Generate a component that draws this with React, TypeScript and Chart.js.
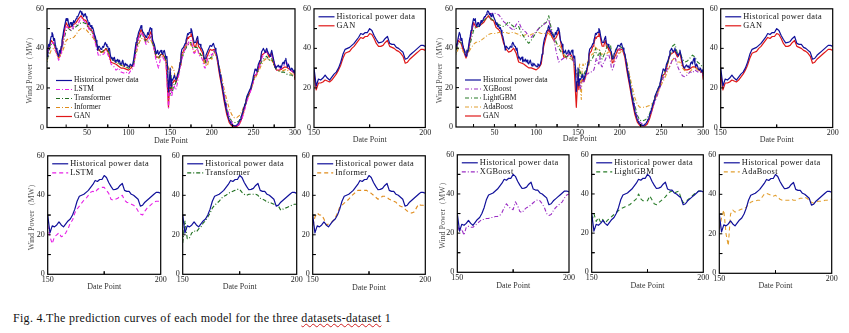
import React, { useEffect, useRef } from 'react';
import { Chart, registerables } from 'chart.js';

Chart.register(...registerables);

const seq = (a: number, b: number, s: number) => {
  const r: number[] = [];
  for (let v = a; v <= b; v += s) r.push(v);
  return r;
};

// ---- categories (Date Point indices) ----
const dayIdx = seq(1, 300, 1);
const modelX = [...seq(1, 148, 3), ...seq(150, 200, 1), ...seq(203, 299, 3), 300];

// ---- tick labels ----
const xTicksFull = [50, 100, 150, 200, 250, 300];
const xTicksZoom = [150, 200];
const yTicksPower = [0, 20, 40, 60];

// ---- historical power data (1..300) ----
const histPower = [
  38, 36, 40, 42, 41, 44, 46, 48, 47, 44,
  45, 42, 40, 39, 37, 36, 39, 38, 41, 44,
  46, 49, 51, 53, 55, 54, 55, 52, 51, 53,
  53, 51, 52, 54, 53, 54, 55, 56, 56, 57,
  58, 59, 58.5, 57, 57.5, 56, 57, 57.5, 56, 55,
  54, 52, 53, 51, 51.5, 50, 50.5, 49, 47, 46,
  44, 42, 39, 41, 41, 40, 39.5, 40, 41, 40.5,
  42, 43, 42, 41, 41, 39, 40, 37, 35, 35.5,
  34, 35, 35.5, 33, 34, 33.5, 34.5, 33, 34, 32.5,
  32, 33, 34, 32, 31, 32.5, 31.5, 32, 31, 31,
  30.5, 32, 31.5, 31, 32, 34, 37, 40, 43, 45,
  46, 48, 49, 50, 51.5, 50, 48.5, 48, 47, 46.5,
  45.5, 46, 48, 47, 49, 50.5, 50, 48, 44, 43,
  42, 40, 37.5, 38, 39, 37, 37.5, 38.5, 39, 37.5,
  37, 38.5, 39, 37, 35, 36, 30, 18, 23, 30,
  21, 24.5, 24, 25, 26.5, 25, 24, 25.5, 27, 28,
  30, 33, 37, 39.5, 40, 40.5, 41.5, 42.5, 44, 45.5,
  47.5, 47, 48, 48, 50, 49, 46.5, 44.5, 42.8, 43,
  43.5, 45, 46, 42.5, 42, 42, 40.5, 40, 39, 38,
  34.5, 35, 36.5, 37.5, 38.5, 39.5, 40.5, 41.5, 41.5, 41,
  42, 42.5, 41, 40, 38.5, 37, 35, 32, 29, 26.5,
  24, 22, 19.5, 17, 14.5, 12, 10, 8, 6.5, 5,
  3.8, 2.8, 2, 1.5, 1.2, 1, 0.8, 0.8, 1, 1.2,
  1.6, 2.2, 3, 4, 5, 6.3, 7.5, 9, 10.5, 12,
  13.5, 15.5, 16.5, 17.5, 18.5, 19.5, 20.5, 22, 23.5, 26,
  27.5, 29.5, 29, 28.5, 30, 32, 33, 34, 36, 38.5,
  39, 40, 39, 38, 39, 40, 38.5, 37.5, 37, 36,
  37.5, 39, 37, 35, 33, 31, 30, 30.5, 31, 31.5,
  30.5, 31, 30, 31, 32.5, 33, 32, 34, 35, 32,
  30.5, 32, 31, 29.5, 29, 30, 29.5, 28, 29, 27,
];

// ---- model predictions: pre (1..148 step 3), mid (150..200), post (203..299 step 3, 300) ----
const lstmPre = [34, 40, 42, 43, 38, 34, 37, 45, 51, 50, 49, 51, 52, 53, 55.5, 54, 53, 50, 49, 46, 41, 36, 37, 37, 39, 36, 32, 31, 29, 30, 28, 27.5, 28, 27, 29, 30, 39, 45, 48, 46, 42, 44, 47, 41, 34, 30, 36, 35, 32, 10];
const lstmMid = [24.5, 19, 15.5, 19, 20, 21, 19, 19.5, 21, 23, 26, 27.5, 31, 33, 34.5, 36, 37.5, 38.5, 40, 41.5, 42, 41.5, 43, 43.5, 44, 44, 42.5, 41, 38, 37.5, 38, 38.5, 39.5, 40, 37.5, 36.5, 36, 35.5, 35, 34, 32, 30.5, 30, 32, 33.5, 34.5, 35.5, 36.5, 37, 37, 36.5];
const lstmPost = [39.5, 36, 30, 23.5, 16.5, 10, 5.5, 2.5, 1, 0.8, 1.5, 4, 8, 13, 16.5, 20, 25, 27.5, 30, 35, 37.5, 38.5, 36.5, 37, 33, 29, 29.5, 30, 31.5, 33, 29.5, 28.5, 28, 26];

const transPre = [30, 38, 42, 43, 39, 36, 38, 44, 49, 50, 49, 50, 51, 52, 53, 53, 52.5, 50, 49, 47, 43, 40, 38, 39, 40, 38.5, 35, 34, 33, 32.5, 31.5, 31, 30.5, 30, 30.5, 32, 39, 44, 47, 46, 43, 44, 46, 41, 36, 35, 37, 37, 34, 20];
const transMid = [16, 27, 18, 18.5, 21, 22, 21.5, 23, 24, 26, 27, 29, 31, 33.5, 35, 36, 37, 38.5, 39.5, 40, 41, 41.5, 42, 42.5, 43, 43, 41.5, 40.5, 40, 40.5, 40.5, 40.5, 40.5, 40, 38.5, 38, 37.5, 36.5, 36.5, 36, 35.5, 35, 34.5, 32.5, 33, 33.5, 34, 34.5, 35, 35.5, 35.5];
const transPost = [39, 36, 30, 23.5, 16, 10, 5.5, 3, 2.5, 2.5, 3.5, 6, 10, 14.5, 17.5, 21, 25.5, 27, 30.5, 33.5, 35, 36, 34, 35, 31, 29, 28.5, 28, 28, 27, 26.5, 26.5, 25.5, 25];

const inforPre = [33, 36, 39, 40, 38, 35, 37, 40, 44, 45, 45, 45.5, 47, 49, 50, 50, 49.5, 48, 46.5, 45, 42, 39, 38, 38, 39, 38, 35, 34, 33, 32, 31.5, 31, 30.5, 30.5, 31, 32, 37, 42, 45, 45, 43, 43, 44, 41, 37, 35, 35.5, 36, 34, 30];
const inforMid = [24, 29, 31, 30, 30, 28, 25, 25.5, 26, 27, 28.5, 31, 34, 35, 36, 37, 38, 39.5, 40.5, 41.5, 42.5, 42.5, 42.5, 42.5, 42.5, 41.5, 41, 40, 39, 38, 38.5, 39.5, 39.5, 39, 38, 37.5, 37, 36.5, 35, 34.5, 34, 33, 32, 31.5, 31, 31.5, 33.5, 35.5, 35, 35, 34.5];
const inforPost = [38, 36, 31, 25, 19, 14, 9.5, 6.5, 5, 5, 6, 8, 11, 15, 18, 20.5, 24, 26.5, 29, 32, 34, 35, 34, 34, 31.5, 29, 28.5, 28.5, 29, 29.5, 28, 27, 26.5, 26];

const ganPre = [36, 40, 44, 42.5, 38.5, 35, 39, 47, 53, 50.5, 51, 52, 53, 55, 56.5, 54.5, 54, 50.5, 49.5, 47.5, 42.5, 39.5, 38, 38.5, 40, 37.5, 33, 32.5, 32, 31, 30, 30, 29.5, 29, 30, 32, 41, 46, 49.5, 46.5, 44, 45.5, 48.5, 41.5, 35.5, 35.5, 37, 36.5, 33.5, 10];
const ganMid = [27, 19, 22.5, 22.5, 23, 24, 23.5, 23, 24, 25.5, 27, 29, 31.5, 35, 37.5, 38, 38.5, 40, 41, 42.5, 44, 45.5, 45, 46, 46, 47.5, 47, 45, 42.5, 41, 41, 41.5, 43, 44, 41, 40.5, 40, 39, 38.5, 37.5, 36, 32.5, 33, 34.5, 35.5, 36.5, 37.5, 38.5, 39.5, 39.5, 39];
const ganPost = [39.5, 35.5, 27.5, 20.5, 13, 6.5, 2.5, 0.8, 0.5, 0.5, 1.5, 4.5, 9, 14, 17, 20.5, 26, 27, 31.5, 36.5, 37.5, 38.5, 35.5, 37.5, 31.5, 29, 29, 29.5, 30.5, 30.5, 29.5, 28.5, 27.5, 24];

const xgbPre = [36, 41, 45, 44, 40, 37, 40, 47, 53, 52, 52.5, 53.5, 55, 56.5, 58, 57.5, 58, 57.5, 57, 55.5, 53.5, 52.5, 51, 50, 49, 52, 53.5, 50.5, 49, 48, 46, 45.5, 47, 48.5, 50, 51, 52, 53, 54.5, 49, 45, 38, 33, 34, 35, 34.5, 37, 36, 33, 27];
const xgbMid = [24, 21, 22, 19, 23, 23.5, 23, 23, 24, 25, 26, 27, 27, 27.5, 27.5, 28, 28, 28.5, 28.5, 29, 30.5, 33, 35, 33.5, 32.5, 32, 36, 34, 31, 30.5, 32, 33, 33.5, 34.5, 35.5, 36.5, 37, 36.5, 35, 33, 30, 29, 29.5, 31.5, 33, 34, 35, 36, 38, 39.5, 40];
const xgbPost = [40, 37, 30, 23, 16, 10, 5, 2.5, 1.5, 1.5, 3, 5.5, 9, 13, 16, 20, 24, 26.5, 29.5, 31, 34, 35.5, 31, 28, 26, 25.5, 26.5, 28, 27.5, 29, 28, 28, 27, 26];

const lgbPre = [30, 38, 43, 43, 40, 37, 39, 44, 49, 51, 51, 52, 54, 55, 56, 55, 54, 53, 52, 51.5, 51, 52, 53.5, 52, 51, 50, 51, 48, 46, 44, 42.5, 44, 46, 48, 50, 51, 52.5, 53, 56.5, 50, 46, 43, 40, 38, 37, 35.5, 36, 35.5, 33, 28];
const lgbMid = [26, 30, 26, 28, 25.5, 27, 25, 26.5, 27.5, 28.5, 29.5, 30.5, 31.5, 32.5, 33, 33.5, 34, 34.5, 35.5, 36.5, 37.5, 40, 37.5, 36.5, 36.5, 36.5, 39, 37, 35, 34.5, 35.5, 36.5, 37.5, 38.5, 40, 41, 41.5, 40.5, 41, 41.5, 38, 35.5, 36, 37, 38, 39, 40, 41, 41.5, 41.5, 41];
const lgbPost = [40, 37, 31, 24, 17, 11, 6, 3.5, 3, 3.5, 4.5, 7, 11, 15, 18.5, 21.5, 25.5, 28, 32, 36, 41, 42, 37.5, 38, 34.5, 33, 33.5, 35, 36.5, 35.5, 33, 32, 30.5, 30];

const adaPre = [34, 37, 40, 40, 38, 37, 38, 40, 42, 43, 43, 44, 45, 46, 47, 47.5, 47.5, 47.5, 48, 48, 48, 48, 47.5, 48, 48, 47.5, 47, 46, 46.5, 47, 46, 47, 47.5, 48, 48, 47.5, 47.5, 47.5, 47.5, 46, 44, 42, 42, 40, 37, 35, 35, 34.5, 33, 28];
const adaMid = [22, 28, 32, 20, 14, 30, 32, 31, 31.5, 32, 32.5, 32.5, 33.5, 35, 36, 36.5, 36.5, 37, 37, 38.5, 40, 40.5, 40, 39.5, 39, 39.5, 38.5, 37.5, 37, 37, 37, 37, 37.5, 37, 37, 37.5, 38, 38, 38.5, 38, 37, 36, 35.5, 36, 36.5, 36.5, 36.5, 37, 37, 37.5, 37.5];
const adaPost = [39, 37, 32, 26, 20, 15, 11.5, 10, 10, 10, 10.5, 11, 12, 14, 17, 20, 22.5, 25, 28, 31, 34, 35, 33, 33, 30, 28.5, 27.5, 28, 29.5, 30.5, 29, 28, 27.5, 27];

const FONT = '"Liberation Serif", "Times New Roman", serif';
const DD = [4, 2, 1, 2];
const DA = [4, 3];

type S = { label: string; color: string; width: number; x: number[]; y: number[]; dashFull: number[]; dashZoom: number[] };

const sHist: S = { label: 'Historical power data', color: '#10109a', width: 1.2, x: dayIdx, y: histPower, dashFull: [], dashZoom: [] };
const sGan: S = { label: 'GAN', color: '#e01818', width: 1.2, x: modelX, y: [...ganPre, ...ganMid, ...ganPost], dashFull: [], dashZoom: [] };
const sLstm: S = { label: 'LSTM', color: '#e620e6', width: 1.1, x: modelX, y: [...lstmPre, ...lstmMid, ...lstmPost], dashFull: DD, dashZoom: DA };
const sTrans: S = { label: 'Transformer', color: '#1f6f1f', width: 1.1, x: modelX, y: [...transPre, ...transMid, ...transPost], dashFull: DD, dashZoom: DD };
const sInfor: S = { label: 'Informer', color: '#e08c1c', width: 1.1, x: modelX, y: [...inforPre, ...inforMid, ...inforPost], dashFull: DD, dashZoom: DA };
const sXgb: S = { label: 'XGBoost', color: '#9b2ec4', width: 1.1, x: modelX, y: [...xgbPre, ...xgbMid, ...xgbPost], dashFull: DD, dashZoom: DD };
const sLgb: S = { label: 'LightGBM', color: '#2a7d2a', width: 1.1, x: modelX, y: [...lgbPre, ...lgbMid, ...lgbPost], dashFull: DD, dashZoom: DA };
const sAda: S = { label: 'AdaBoost', color: '#e2a032', width: 1.1, x: modelX, y: [...adaPre, ...adaMid, ...adaPost], dashFull: DD, dashZoom: DA };

type P = {
  L: number; T: number; R: number; B: number;
  xMin: number; xMax: number; xTicks: number[];
  yTitleX?: number; dp: number; big: boolean; series: S[];
};

const panels: P[] = [
  { L: 47, T: 7, R: 295, B: 127.5, xMin: 2, xMax: 300, xTicks: xTicksFull, yTitleX: 30, dp: 13.5, big: true, series: [sHist, sLstm, sTrans, sInfor, sGan] },
  { L: 314, T: 7, R: 425.3, B: 127.5, xMin: 150, xMax: 200, xTicks: xTicksZoom, dp: 12.5, big: false, series: [sHist, sGan] },
  { L: 456, T: 7, R: 703.3, B: 127, xMin: 4, xMax: 300, xTicks: xTicksFull, yTitleX: 440, dp: 11.5, big: true, series: [sHist, sXgb, sLgb, sAda, sGan] },
  { L: 720.7, T: 7, R: 832.7, B: 127.5, xMin: 150, xMax: 200, xTicks: xTicksZoom, dp: 12, big: false, series: [sHist, sGan] },
  { L: 47.7, T: 154.3, R: 160.7, B: 274.3, xMin: 150, xMax: 200, xTicks: xTicksZoom, yTitleX: 31.7, dp: 12.4, big: false, series: [sHist, sLstm] },
  { L: 182.7, T: 154.3, R: 296.7, B: 274.3, xMin: 150, xMax: 200, xTicks: xTicksZoom, dp: 12.4, big: false, series: [sHist, sTrans] },
  { L: 312.7, T: 154.3, R: 425.3, B: 274.3, xMin: 150, xMax: 200, xTicks: xTicksZoom, dp: 14, big: false, series: [sHist, sInfor] },
  { L: 457.3, T: 153.3, R: 569, B: 272.3, xMin: 150, xMax: 200, xTicks: xTicksZoom, yTitleX: 442.7, dp: 13.7, big: false, series: [sHist, sXgb] },
  { L: 591.7, T: 153, R: 703.3, B: 272.3, xMin: 150, xMax: 200, xTicks: xTicksZoom, dp: 13.7, big: false, series: [sHist, sLgb] },
  { L: 719.3, T: 153.3, R: 831.7, B: 273.3, xMin: 150, xMax: 200, xTicks: xTicksZoom, dp: 12.7, big: false, series: [sHist, sAda] },
];

const framePlugin = {
  id: 'frameTicks',
  afterDatasetsDraw(chart: any, _args: any, opts: any) {
    const { ctx, chartArea: a, scales } = chart;
    const x = scales.x, y = scales.y;
    ctx.save();
    ctx.setLineDash([]);
    ctx.strokeStyle = '#000';
    ctx.lineWidth = 1.2;
    ctx.strokeRect(a.left, a.top, a.right - a.left, a.bottom - a.top);
    ctx.lineWidth = 1;
    const tl = 3;
    const minors = (vals: number[], lo: number, hi: number) => {
      const out: number[] = [...vals];
      if (vals.length > 1) {
        const st = vals[1] - vals[0];
        vals.forEach((v) => { out.push(v - st / 2); out.push(v + st / 2); });
      }
      return out.filter((v) => v > lo && v < hi);
    };
    const xv = minors(x.ticks.map((t: any) => t.value), x.min, x.max);
    const yv = minors(y.ticks.map((t: any) => t.value), y.min, y.max);
    ctx.beginPath();
    xv.forEach((v) => { const px = x.getPixelForValue(v); ctx.moveTo(px, a.bottom); ctx.lineTo(px, a.bottom - tl); });
    yv.forEach((v) => { const py = y.getPixelForValue(v); ctx.moveTo(a.left, py); ctx.lineTo(a.left + tl, py); });
    ctx.stroke();

    // legend inside plot
    const ds = chart.data.datasets;
    const fs = opts.big ? 7.5 : 8.3;
    const rowH = 9;
    const x0 = a.left + (opts.big ? 9 : 4.5);
    const y0 = opts.big ? a.bottom - 47 : a.top + 8;
    const len = 16;
    ctx.font = `${fs}px ${FONT}`;
    ctx.textBaseline = 'middle';
    if (!opts.big && 'letterSpacing' in ctx) (ctx as any).letterSpacing = '0.35px';
    ds.forEach((d: any, i: number) => {
      const yy = y0 + i * rowH;
      ctx.strokeStyle = d.borderColor;
      ctx.lineWidth = 1.2;
      ctx.setLineDash(d.borderDash || []);
      ctx.beginPath();
      ctx.moveTo(x0, yy);
      ctx.lineTo(x0 + len, yy);
      ctx.stroke();
      ctx.setLineDash([]);
      ctx.fillStyle = '#111';
      ctx.fillText(d.label, x0 + len + 2, yy);
    });
    ctx.restore();
  },
};

function PanelChart({ p }: { p: P }) {
  const ref = useRef<HTMLCanvasElement>(null);
  const titleHalf = 4.8;
  const cl = p.yTitleX !== undefined ? Math.floor(p.yTitleX - titleHalf) : Math.floor(p.L - 16);
  const yTitlePad = p.yTitleX !== undefined ? p.yTitleX - titleHalf - cl : 0;
  const ct = Math.floor(p.T - 6);
  const cr = Math.ceil(p.R + 9);
  const cb = Math.ceil(p.B + p.dp + 6);
  const W = cr - cl;
  const H = cb - ct;
  useEffect(() => {
    const cfg: any = {
      type: 'line',
      data: {
        datasets: p.series.map((s) => ({
          label: s.label,
          data: s.x.map((xv, i) => ({ x: xv, y: s.y[i] })),
          borderColor: s.color,
          borderWidth: s.width,
          borderDash: p.big ? s.dashFull : s.dashZoom,
          borderJoinStyle: 'round',
          pointRadius: 0,
          tension: 0,
          fill: false,
          clip: 0,
        })),
      },
      options: {
        animation: false,
        responsive: false,
        devicePixelRatio: 1,
        events: [],
        layout: { padding: { left: 0, top: p.T - ct, right: cr - p.R, bottom: 0 } },
        plugins: {
          legend: { display: false },
          tooltip: { enabled: false },
          frameTicks: { big: p.big },
        },
        scales: {
          x: {
            type: 'linear',
            min: p.xMin,
            max: p.xMax,
            afterBuildTicks: (sc: any) => { sc.ticks = p.xTicks.map((v) => ({ value: v })); },
            afterFit: (sc: any) => { sc.height = cb - p.B; },
            grid: { display: false, drawTicks: false },
            border: { display: false },
            ticks: { padding: 1, font: { family: FONT, size: 8 }, color: '#222', maxRotation: 0, autoSkip: false },
            title: {
              display: true,
              text: 'Date Point',
              font: { family: FONT, size: 8 },
              color: '#333',
              padding: { top: 0, bottom: cb - p.B - p.dp - titleHalf },
            },
          },
          y: {
            type: 'linear',
            min: 0,
            max: 60,
            afterBuildTicks: (sc: any) => { sc.ticks = yTicksPower.map((v) => ({ value: v })); },
            afterFit: (sc: any) => { sc.width = p.L - cl; },
            grid: { display: false, drawTicks: false },
            border: { display: false },
            ticks: { padding: 3, font: { family: FONT, size: 8 }, color: '#222' },
            title: {
              display: p.yTitleX !== undefined,
              text: 'Wind Power（MW）',
              font: { family: FONT, size: 8 },
              color: '#555',
              padding: { top: yTitlePad, bottom: 0 },
            },
          },
        },
      },
      plugins: [framePlugin],
    };
    const chart = new Chart(ref.current as HTMLCanvasElement, cfg);
    return () => chart.destroy();
  }, []);
  return (
    <canvas
      ref={ref}
      width={W}
      height={H}
      style={{ position: 'absolute', left: cl, top: ct, width: W, height: H }}
    />
  );
}

export default function App() {
  return (
    <div style={{ position: 'absolute', left: 0, top: 0, width: 849, height: 333, background: '#fff', overflow: 'hidden' }}>
      {panels.map((p, i) => (
        <PanelChart key={i} p={p} />
      ))}
      <div
        style={{
          position: 'absolute',
          left: 13,
          top: 311,
          fontFamily: FONT,
          fontSize: 12,
          letterSpacing: '0.3px',
          color: '#111',
          whiteSpace: 'nowrap',
        }}
      >
        Fig. 4.The prediction curves of each model for the three{' '}
        <span style={{ textDecoration: 'underline wavy #d02020', textDecorationThickness: 1 }}>datasets-dataset</span> 1
      </div>
    </div>
  );
}
